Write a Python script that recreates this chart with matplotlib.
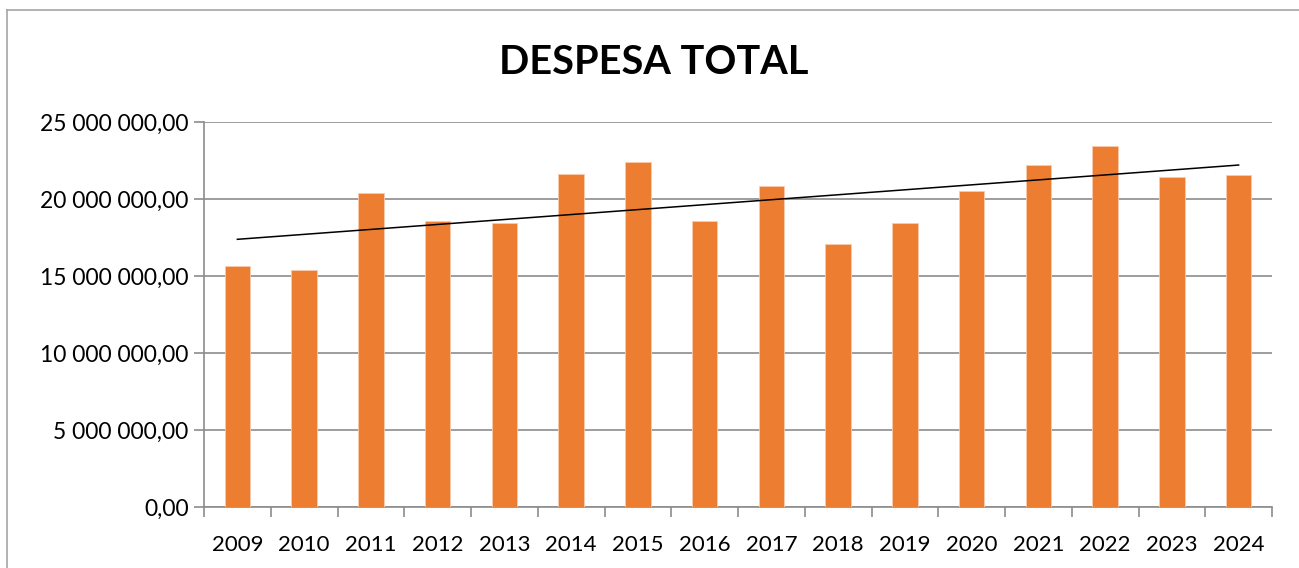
import matplotlib
matplotlib.use('Agg')
import matplotlib.pyplot as plt
from matplotlib.ticker import FuncFormatter, FixedLocator
import numpy as np

# Despesa total por ano
years = ['2009', '2010', '2011', '2012', '2013', '2014', '2015', '2016',
         '2017', '2018', '2019', '2020', '2021', '2022', '2023', '2024']
despesa = [15650000, 15420000, 20370000, 18580000, 18430000, 21650000, 22430000, 18580000,
           20850000, 17100000, 18430000, 20540000, 22190000, 23450000, 21450000, 21580000]
y_ticks = [0, 5000000, 10000000, 15000000, 20000000, 25000000]

plt.rcParams['font.family'] = ['Lato', 'DejaVu Sans']

W, H = 1299, 568
fig = plt.figure(figsize=(W / 100, H / 100), dpi=100)
fig.patch.set_facecolor('white')

# chart frame (cut off at right/bottom like the screenshot)
fig.add_artist(plt.Line2D([7 / W, 7 / W], [0, 1 - 10 / H], color='#a6a6a6', lw=1.2))
fig.add_artist(plt.Line2D([7 / W, 1], [1 - 10 / H, 1 - 10 / H], color='#a6a6a6', lw=1.2))

ax = fig.add_axes([204 / W, 1 - 507 / H, (1272 - 204) / W, (507 - 122) / H])

x = np.arange(len(years))
ax.bar(x, despesa, width=0.38, color='#ed7d31', edgecolor='#f8cbad', linewidth=0.6, zorder=3)

# linear trend line
coef = np.polyfit(x, despesa, 1)
ax.plot(x, np.polyval(coef, x), color='black', lw=1.1, zorder=4)

ax.set_xlim(-0.5, len(years) - 0.5)
ax.set_ylim(0, 25000000)
ax.set_yticks(y_ticks)

def fmt(v, pos):
    s = f'{v:,.2f}'
    return s.replace(',', ' ').replace('.', ',')

ax.yaxis.set_major_formatter(FuncFormatter(fmt))
ax.grid(axis='y', color='#8c8c8c', lw=1.2, zorder=0)

ax.set_xticks(x)
ax.set_xticklabels(years)
ax.xaxis.set_minor_locator(FixedLocator(np.arange(-0.5, len(years), 1)))
ax.tick_params(axis='x', which='major', length=0, pad=20, labelsize=16)
ax.tick_params(axis='x', which='minor', length=7, width=1.2, color='#8c8c8c')
ax.tick_params(axis='y', length=7, width=1.2, color='#8c8c8c', pad=4, labelsize=16.5)

for side in ['top', 'right']:
    ax.spines[side].set_visible(False)
ax.spines['left'].set_color('#8c8c8c')
ax.spines['bottom'].set_color('#8c8c8c')
ax.spines['left'].set_linewidth(1.2)
ax.spines['bottom'].set_linewidth(1.2)

fig.text(654 / W, 1 - 63 / H, 'DESPESA TOTAL', ha='center', va='center',
         fontsize=28.5, fontweight='bold')

fig.savefig('out.png', dpi=100, facecolor='white')
